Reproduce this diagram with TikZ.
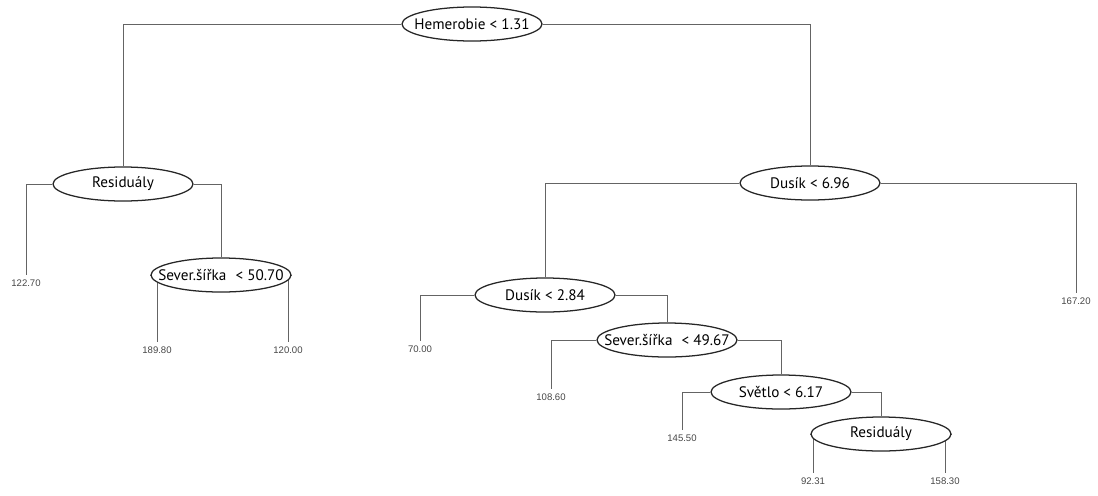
\documentclass[tikz,border=0pt]{standalone}
\usepackage{fontspec}
\setmainfont{PT Sans}
\newfontfamily\leaffont{Liberation Sans}
\usetikzlibrary{shapes.geometric,backgrounds}
\definecolor{edgegray}{RGB}{100,100,100}
\definecolor{leafgray}{RGB}{70,70,70}
\newcommand{\splitlabel}[1]{\makebox[0pt]{#1}}
\begin{document}
\begin{tikzpicture}[x=0.025cm,y=-0.025cm,
    split/.style={ellipse,draw=black!85,line width=0.9pt,fill=white,inner sep=0pt,
      minimum width=3.5cm,minimum height=0.85cm,font=\fontsize{10.8}{13}\selectfont},
    leaf/.style={font=\leaffont\fontsize{6.8}{8}\selectfont,text=leafgray,inner sep=1pt,outer sep=2.5pt},
    edge/.style={draw=edgegray,line width=0.7pt}]
  \useasboundingbox (0,0) rectangle (1098,495);
  % splits
  \node[split] (hem) at (472,24) {\splitlabel{Hemerobie < 1.31}};
  \node[split] (resL) at (123,184) {\splitlabel{Residuály}};
  \node[split] (sevA) at (221,275) {\splitlabel{Sever.šířka\hspace{0.6em}< 50.70}};
  \node[split] (dusA) at (810,183) {\splitlabel{Dusík < 6.96}};
  \node[split] (dusB) at (545,295) {\splitlabel{Dusík < 2.84}};
  \node[split] (sevB) at (667,340) {\splitlabel{Sever.šířka\hspace{0.6em}< 49.67}};
  \node[split] (svet) at (781,392) {\splitlabel{Světlo < 6.17}};
  \node[split] (resR) at (881,434) {\splitlabel{Residuály}};
  % leaves
  \node[leaf] (v1227) at (26,283) {122.70};
  \node[leaf] (v1898) at (157,350) {189.80};
  \node[leaf] (v1200) at (288,350) {120.00};
  \node[leaf] (v7000) at (420,349) {70.00};
  \node[leaf] (v1672) at (1076,301) {167.20};
  \node[leaf] (v1086) at (551,397) {108.60};
  \node[leaf] (v1455) at (682,438) {145.50};
  \node[leaf] (v9231) at (813,481) {92.31};
  \node[leaf] (v1583) at (945,481) {158.30};
  \begin{scope}[on background layer]
    \draw[edge] (hem) -| (resL);
    \draw[edge] (hem) -| (dusA);
    \draw[edge] (resL) -| (v1227.north);
    \draw[edge] (resL) -| (sevA);
    \draw[edge] (sevA) -| (v1898.north);
    \draw[edge] (sevA) -| (v1200.north);
    \draw[edge] (dusA) -| (dusB);
    \draw[edge] (dusA) -| (v1672.north);
    \draw[edge] (dusB) -| (v7000.north);
    \draw[edge] (dusB) -| (sevB);
    \draw[edge] (sevB) -| (v1086.north);
    \draw[edge] (sevB) -| (svet);
    \draw[edge] (svet) -| (v1455.north);
    \draw[edge] (svet) -| (resR);
    \draw[edge] (resR) -| (v9231.north);
    \draw[edge] (resR) -| (v1583.north);
  \end{scope}
\end{tikzpicture}
\end{document}
